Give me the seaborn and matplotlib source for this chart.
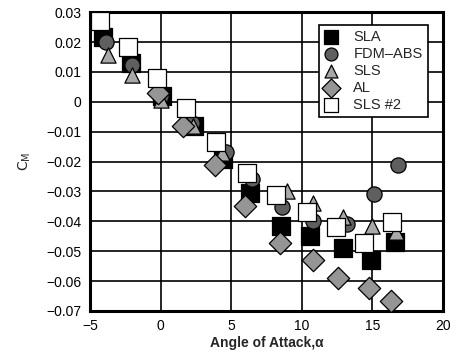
import numpy as np
import pandas as pd
import matplotlib
matplotlib.use("Agg")
import matplotlib.pyplot as plt
import seaborn as sns

series_names = ["SLA", "FDM\u2013ABS", "SLS", "AL", "SLS #2"]

sla_x = [-4.1, -2.1, 0.1, 2.4, 4.4, 6.3, 8.5, 10.6, 12.9, 14.9, 16.6]
sla_y = [0.0216, 0.013, 0.002, -0.008, -0.019, -0.0305, -0.0416, -0.045, -0.049, -0.053, -0.047]

fdm_x = [-3.9, -2.0, 0.0, 2.2, 4.6, 6.5, 8.6, 10.8, 13.2, 15.1, 16.8]
fdm_y = [0.020, 0.0123, 0.002, -0.007, -0.0168, -0.026, -0.0352, -0.040, -0.041, -0.031, -0.021]

sls_x = [-3.7, -2.0, 0.0, 2.3, 4.35, 8.95, 10.8, 12.9, 15.0, 16.7]
sls_y = [0.0156, 0.009, 0.0006, -0.008, -0.017, -0.030, -0.034, -0.0386, -0.0416, -0.0436]

al_x = [-0.2, 1.6, 3.85, 6.0, 8.45, 10.8, 12.6, 14.8, 16.3]
al_y = [0.003, -0.0081, -0.0212, -0.035, -0.0473, -0.053, -0.059, -0.0623, -0.0668]

sls2_x = [-4.3, -2.3, -0.25, 1.8, 3.9, 6.1, 8.2, 10.4, 12.4, 14.4, 16.4]
sls2_y = [0.027, 0.0183, 0.008, -0.0021, -0.0135, -0.0239, -0.0312, -0.0369, -0.0419, -0.0473, -0.0402]

x_ticks = [-5, 0, 5, 10, 15, 20]
y_ticks = [0.03, 0.02, 0.01, 0, -0.01, -0.02, -0.03, -0.04, -0.05, -0.06, -0.07]
y_tick_labels = ["0.03", "0.02", "0.01", "0", "\u22120.01", "\u22120.02", "\u22120.03",
                 "\u22120.04", "\u22120.05", "\u22120.06", "\u22120.07"]

frames = []
for name, xs, ys in zip(series_names,
                        [sla_x, fdm_x, sls_x, al_x, sls2_x],
                        [sla_y, fdm_y, sls_y, al_y, sls2_y]):
    frames.append(pd.DataFrame({"alpha": xs, "cm": ys, "series": name}))
df = pd.concat(frames, ignore_index=True)

sns.set_style("white")
plt.rcParams["font.family"] = ["Liberation Sans", "DejaVu Sans"]

palette = {"SLA": "#000000", "FDM\u2013ABS": "#5f5f5f", "SLS": "#a8a8a8",
           "AL": "#959595", "SLS #2": "#ffffff"}
markers = {"SLA": "s", "FDM\u2013ABS": "o", "SLS": "^", "AL": "D", "SLS #2": "s"}
sizes_map = {"SLA": 150, "FDM\u2013ABS": 120, "SLS": 120, "AL": 130, "SLS #2": 150}

fig = plt.figure(figsize=(4.51, 3.57), dpi=100)
ax = fig.add_axes([0.1996, 0.129, 0.7824, 0.837])

for name in series_names:
    sub = df[df["series"] == name]
    sns.scatterplot(data=sub, x="alpha", y="cm", marker=markers[name],
                    color=palette[name], edgecolor="#000000", linewidth=0.9,
                    s=sizes_map[name], ax=ax, label=name, zorder=3)

ax.set_xlim(-5, 20)
ax.set_ylim(-0.07, 0.03)
ax.set_xticks(x_ticks)
ax.set_yticks(y_ticks)
ax.set_yticklabels(y_tick_labels)
ax.tick_params(axis="both", labelsize=10, length=0, pad=6, colors="#000000")
ax.grid(True, color="#000000", linewidth=1.2, zorder=0)
ax.set_axisbelow(True)
for sp in ax.spines.values():
    sp.set_linewidth(2.2)
    sp.set_color("#000000")

ax.set_xlabel("Angle of Attack,\u03b1", fontsize=10, fontweight="bold", labelpad=2)
ax.set_ylabel(r"$\mathrm{C_M}$", fontsize=10, labelpad=10)

leg = ax.legend(loc="upper right", bbox_to_anchor=(0.957, 0.957), fontsize=10.5,
                frameon=True, fancybox=False, edgecolor="#000000",
                borderpad=0.35, labelspacing=0.2, handletextpad=1.0,
                handlelength=1.0, borderaxespad=0.0, markerscale=0.85)
leg.get_frame().set_linewidth(1.2)
leg.get_frame().set_alpha(1)

fig.savefig("out.png", dpi=100, facecolor="white")
